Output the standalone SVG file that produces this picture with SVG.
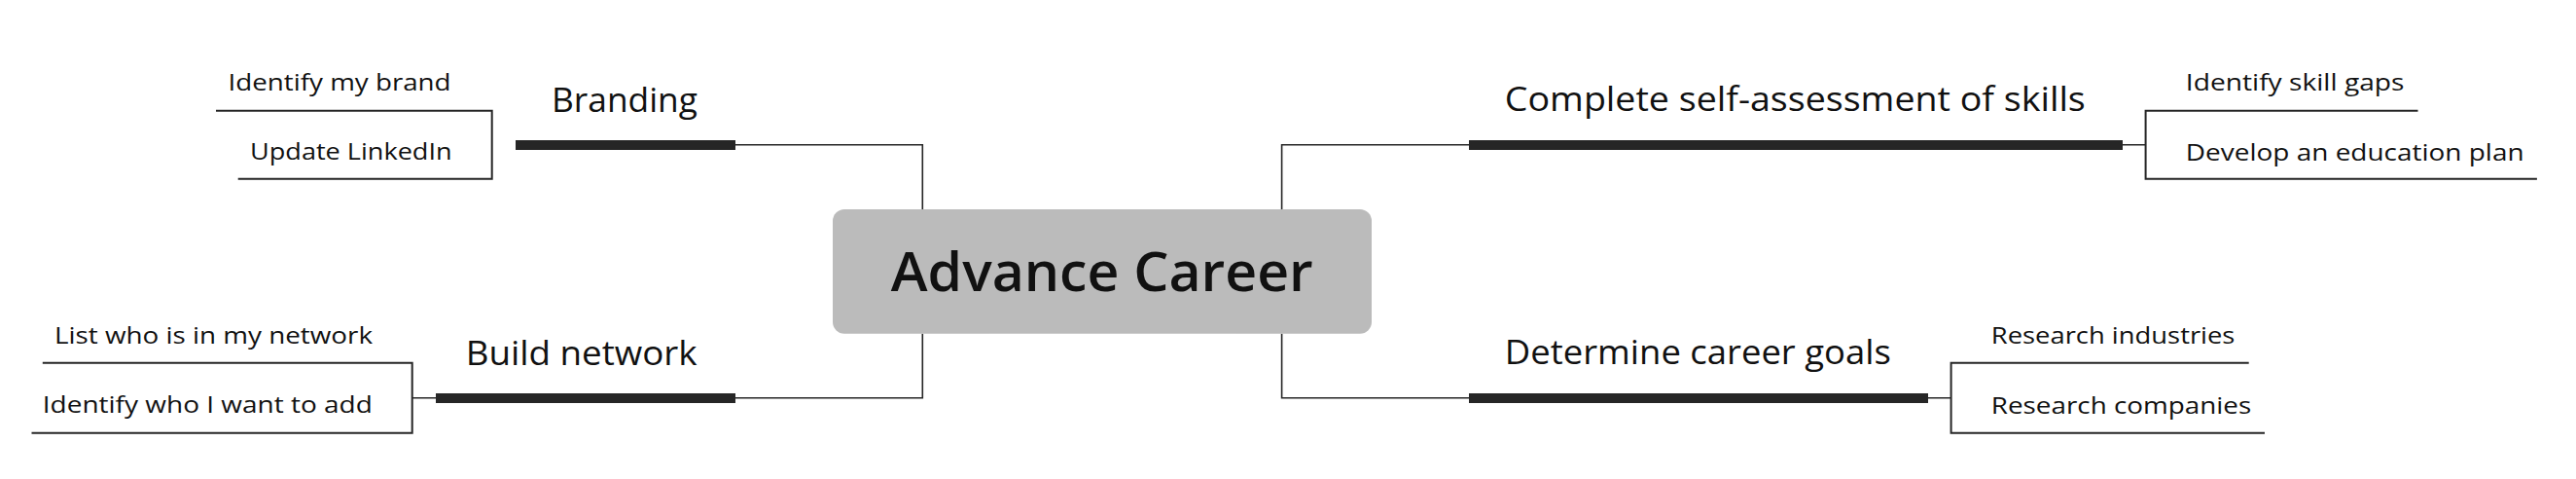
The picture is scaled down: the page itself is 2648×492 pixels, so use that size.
<svg xmlns="http://www.w3.org/2000/svg" width="2648" height="492" viewBox="0 0 2648 492">
<style>
text{font-family:"Open Sans","Liberation Sans",sans-serif;fill:#111}
.sub{font-size:24.5px}
.main{font-size:34.5px}
.root{font-size:56px;font-weight:600}
.thin{fill:none;stroke:#262626;stroke-width:1.6}
.br{fill:none;stroke:#262626;stroke-width:2}
.bar{stroke:#262626;stroke-width:10}
</style>
<rect width="2648" height="492" fill="#fff"/>
<g id="connectors">
<path class="thin" d="M948.3 215V148.7H530"/>
<path class="thin" d="M1317.6 215V148.7H2205.6"/>
<path class="thin" d="M948.3 342.7V408.7H423.7"/>
<path class="thin" d="M1317.6 342.7V408.7H2005.6"/>
<line class="bar" x1="530" y1="149" x2="756" y2="149"/>
<line class="bar" x1="448" y1="409" x2="756" y2="409"/>
<line class="bar" x1="1510" y1="149" x2="2182" y2="149"/>
<line class="bar" x1="1510" y1="409" x2="1982" y2="409"/>
<path class="br" d="M222 113.7H505.7V183.7H244.7"/>
<path class="br" d="M43.8 372.7H423.7V444.7H32.5"/>
<path class="br" d="M2485.5 113.7H2205.6V183.7H2607.9"/>
<path class="br" d="M2311.7 372.7H2005.6V444.7H2328"/>
</g>
<g id="root">
<rect x="856" y="215" width="554" height="127.7" rx="12" fill="#bbbbbb"/>
<text class="root" x="915.8" y="299.3" textLength="434" lengthAdjust="spacingAndGlyphs">Advance Career</text>
</g>
<g id="branding">
<text class="main" x="567" y="115" textLength="150" lengthAdjust="spacingAndGlyphs">Branding</text>
</g>
<g id="identify-brand">
<text class="sub" x="234.6" y="92.7" textLength="229" lengthAdjust="spacingAndGlyphs">Identify my brand</text>
</g>
<g id="update-linkedin">
<text class="sub" x="257" y="164" textLength="207.6" lengthAdjust="spacingAndGlyphs">Update LinkedIn</text>
</g>
<g id="build-network">
<text class="main" x="478.7" y="375" textLength="238" lengthAdjust="spacingAndGlyphs">Build network</text>
</g>
<g id="list-network">
<text class="sub" x="56" y="353" textLength="327" lengthAdjust="spacingAndGlyphs">List who is in my network</text>
</g>
<g id="identify-add">
<text class="sub" x="43.8" y="424" textLength="339" lengthAdjust="spacingAndGlyphs">Identify who I want to add</text>
</g>
<g id="self-assessment">
<text class="main" x="1546.8" y="114" textLength="597" lengthAdjust="spacingAndGlyphs">Complete self-assessment of skills</text>
</g>
<g id="skill-gaps">
<text class="sub" x="2246.8" y="92.7" textLength="224.7" lengthAdjust="spacingAndGlyphs">Identify skill gaps</text>
</g>
<g id="education-plan">
<text class="sub" x="2246.8" y="165" textLength="347.8" lengthAdjust="spacingAndGlyphs">Develop an education plan</text>
</g>
<g id="career-goals">
<text class="main" x="1546.8" y="374" textLength="397" lengthAdjust="spacingAndGlyphs">Determine career goals</text>
</g>
<g id="research-industries">
<text class="sub" x="2046.8" y="352.7" textLength="250.6" lengthAdjust="spacingAndGlyphs">Research industries</text>
</g>
<g id="research-companies">
<text class="sub" x="2046.8" y="425" textLength="267.4" lengthAdjust="spacingAndGlyphs">Research companies</text>
</g>
</svg>
